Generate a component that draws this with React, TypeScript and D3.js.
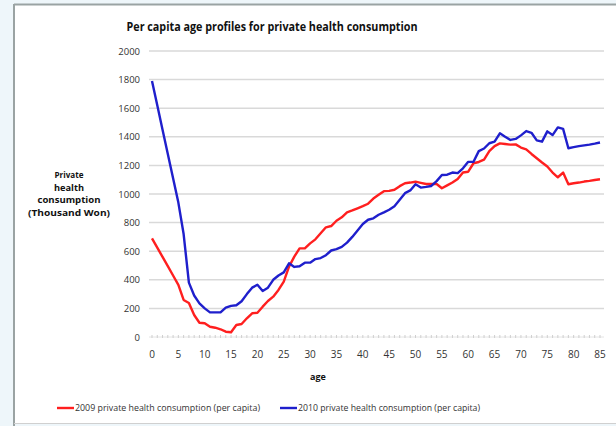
import React from "react";
import * as d3 from "d3";

const ages: number[] = d3.range(0, 86);
const tickAges: number[] = [0, 5, 10, 15, 20, 25, 30, 35, 40, 45, 50, 55, 60, 65, 70, 75, 80, 85];
const yTicks: number[] = [0, 200, 400, 600, 800, 1000, 1200, 1400, 1600, 1800, 2000];

const red2009: number[] = [
  690, 625, 560, 495, 430, 364, 259, 238, 154, 100,
  96, 72, 65, 54, 37, 33, 84, 91, 131, 166,
  170, 212, 252, 282, 329, 387, 492, 562, 620, 620,
  655, 683, 725, 767, 776, 813, 837, 872, 885, 900,
  915, 932, 968, 995, 1020, 1022, 1030, 1055, 1075, 1080,
  1086, 1078, 1070, 1070, 1070, 1040, 1060, 1080, 1105, 1150,
  1156, 1215, 1224, 1240, 1300, 1335, 1354, 1350, 1345, 1347,
  1325, 1312, 1280, 1250, 1220, 1192, 1150, 1117, 1150, 1068,
  1075, 1080, 1087, 1092, 1098, 1103,
];

const blue2010: number[] = [
  1790, 1620, 1450, 1280, 1110, 940, 720, 380, 290, 235,
  200, 172, 172, 172, 205, 218, 222, 250, 300, 345,
  365, 322, 345, 400, 430, 452, 515, 490, 495, 520,
  520, 545, 552, 572, 605, 615, 630, 660, 700, 745,
  790, 820, 830, 855, 872, 890, 915, 960, 1006, 1025,
  1068, 1045, 1050, 1056, 1090, 1133, 1135, 1150, 1146, 1180,
  1225, 1226, 1300, 1318, 1355, 1366, 1424, 1400, 1378, 1385,
  1410, 1440, 1428, 1375, 1366, 1438, 1412, 1466, 1455, 1320,
  1328, 1335, 1340, 1345, 1352, 1360,
];

const seriesNames: string[] = [
  "2009 private health consumption (per capita)",
  "2010 private health consumption (per capita)",
];
const yTitleLines: string[] = ["Private", "health", "consumption", "(Thousand Won)"];
const yTitleWidths: number[] = [29, 30, 63, 82];

export default function App() {
  const W = 616;
  const H = 426;
  const x = d3.scaleLinear().domain([0, 85]).range([152, 600]);
  const y = d3.scaleLinear().domain([0, 2000]).range([337, 51]);
  const line = d3
    .line<number>()
    .x((_, i) => x(ages[i]))
    .y((d) => y(d));
  const font = "'Open Sans', 'DejaVu Sans', sans-serif";

  return (
    <svg
      width={W}
      height={H}
      style={{ position: "absolute", left: 0, top: 0, fontFamily: font }}
    >
      <rect x={0} y={0} width={W} height={H} fill="#eef6fa" />
      <rect x={14} y={4} width={W - 14} height={419} fill="#ffffff" />
      <line x1={14} y1={4.5} x2={W} y2={4.5} stroke="#9aa3a3" strokeWidth={2} />
      <line x1={14} y1={4} x2={14} y2={H} stroke="#9aa3a3" strokeWidth={2} />
      <line x1={14} y1={423.5} x2={W} y2={423.5} stroke="#d0d0d0" strokeWidth={1} />

      <text
        x={272}
        y={31}
        textAnchor="middle"
        fontSize={12.5}
        fontWeight="bold"
        fill="#111"
        textLength={291}
        lengthAdjust="spacingAndGlyphs"
      >
        Per capita age profiles for private health consumption
      </text>

      {yTicks.map((t) =>
        t === 0 ? null : (
          <line
            key={"g" + t}
            x1={149}
            x2={604}
            y1={y(t)}
            y2={y(t)}
            stroke="#d9d9d9"
            strokeWidth={1.5}
          />
        )
      )}
      <line x1={149} x2={604} y1={y(0)} y2={y(0)} stroke="#e4e4e4" strokeWidth={1} />
      {d3.range(0, 86).map((a) => (
        <line
          key={"m" + a}
          x1={x(a)}
          x2={x(a)}
          y1={y(0) - 2}
          y2={y(0) + 1}
          stroke="#cfcfcf"
          strokeWidth={1}
        />
      ))}

      {yTicks.map((t) => (
        <text
          key={"yl" + t}
          x={140}
          y={y(t) + 3.5}
          textAnchor="end"
          fontSize={9.5}
          fill="#333"
        >
          {t}
        </text>
      ))}
      {tickAges.map((a) => (
        <text
          key={"xl" + a}
          x={x(a)}
          y={358}
          textAnchor="middle"
          fontSize={10}
          fill="#333"
        >
          {a}
        </text>
      ))}

      {yTitleLines.map((s, i) => (
        <text
          key={"yt" + i}
          x={69}
          y={178 + i * 12.5}
          textAnchor="middle"
          fontSize={8.5}
          fontWeight="bold"
          fill="#111"
          textLength={yTitleWidths[i]}
          lengthAdjust="spacingAndGlyphs"
        >
          {s}
        </text>
      ))}

      <text x={318} y={380} textAnchor="middle" fontSize={9} fontWeight="bold" fill="#111">
        age
      </text>

      <path d={line(red2009) || ""} fill="none" stroke="#ff1f1f" strokeWidth={2.4} strokeLinejoin="round" />
      <path d={line(blue2010) || ""} fill="none" stroke="#1f1fcc" strokeWidth={2.4} strokeLinejoin="round" />

      <line x1={57} x2={74} y1={408} y2={408} stroke="#ff1f1f" strokeWidth={2.4} />
      <text x={75} y={411} fontSize={9.5} fill="#333" textLength={185} lengthAdjust="spacingAndGlyphs">
        {seriesNames[0]}
      </text>
      <line x1={280} x2={297} y1={408} y2={408} stroke="#1f1fcc" strokeWidth={2.4} />
      <text x={298} y={411} fontSize={9.5} fill="#333" textLength={182} lengthAdjust="spacingAndGlyphs">
        {seriesNames[1]}
      </text>
    </svg>
  );
}
